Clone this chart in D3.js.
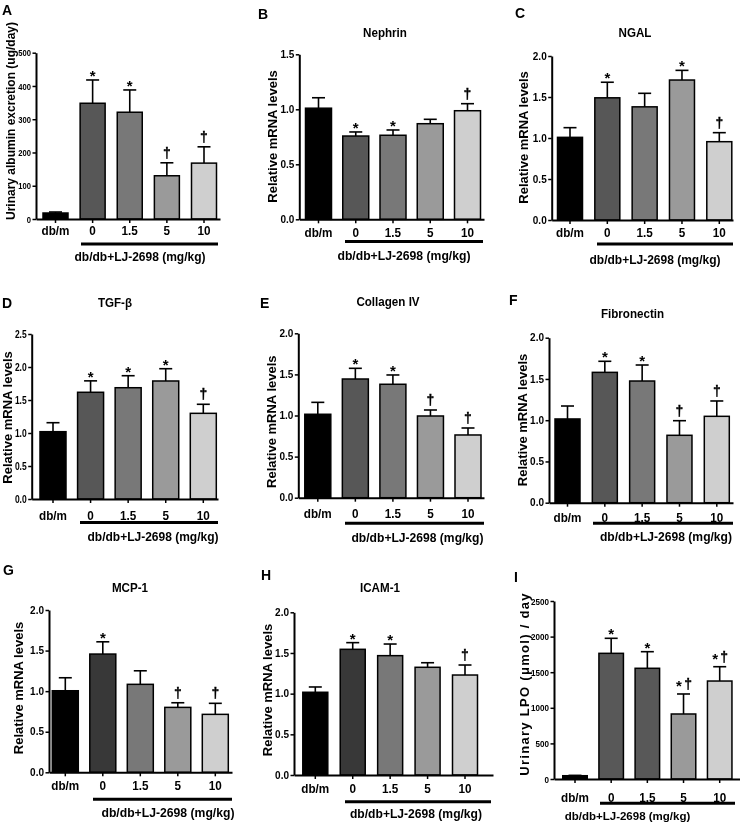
<!DOCTYPE html>
<html><head><meta charset="utf-8">
<script src="https://cdn.jsdelivr.net/npm/d3@7"></script>
<style>
body{margin:0;background:#fff;}
svg{will-change:transform;}
svg text{font-family:"Liberation Sans",Arial,sans-serif;fill:#000;-webkit-font-smoothing:antialiased;}
</style></head>
<body><svg id="c" width="740" height="829"></svg>
<script>
// ---------- DATA ----------
const categories = ["db/m","0","1.5","5","10"];
const groupLabel = "db/db+LJ-2698 (mg/kg)";

const albuminMean = [18, 348, 321, 130, 168];
const albuminSem  = [3, 70, 67, 39, 49];
const albuminMarks = ["", "*", "*", "†", "†"];
const albuminTicks = [0, 100, 200, 300, 400, 500];

const nephrinMean = [1.01, 0.757, 0.764, 0.869, 0.987];
const nephrinSem  = [0.095, 0.037, 0.048, 0.04, 0.064];
const nephrinMarks = ["", "*", "*", "", "†"];
const nephrinTicks = [0, 0.5, 1.0, 1.5];

const ngalMean = [1.008, 1.49, 1.38, 1.707, 0.955];
const ngalSem  = [0.118, 0.19, 0.165, 0.118, 0.11];
const ngalMarks = ["", "*", "", "*", "†"];

const tgfMean = [1.02, 1.617, 1.686, 1.788, 1.298];
const tgfSem  = [0.136, 0.173, 0.182, 0.186, 0.137];
const tgfMarks = ["", "*", "*", "*", "†"];
const tgfTicks = [0, 0.5, 1.0, 1.5, 2.0, 2.5];

const collagenMean = [1.015, 1.444, 1.38, 0.994, 0.763];
const collagenSem  = [0.145, 0.13, 0.113, 0.073, 0.085];
const collagenMarks = ["", "*", "*", "†", "†"];

const fibronectinMean = [1.015, 1.58, 1.475, 0.817, 1.047];
const fibronectinSem  = [0.157, 0.134, 0.194, 0.177, 0.186];
const fibronectinMarks = ["", "*", "*", "†", "†"];

const mcpMean = [1.005, 1.457, 1.084, 0.80, 0.714];
const mcpSem  = [0.16, 0.151, 0.167, 0.057, 0.136];
const mcpMarks = ["", "*", "", "†", "†"];

const icamMean = [1.017, 1.545, 1.467, 1.324, 1.229];
const icamSem  = [0.065, 0.082, 0.143, 0.056, 0.123];
const icamMarks = ["", "*", "*", "", "†"];

const lpoMean = [46, 1765, 1555, 913, 1376];
const lpoSem  = [5, 211, 233, 281, 201];
const lpoMarks = ["", "*", "*", "* †", "* †"];
const lpoTicks = [0, 500, 1000, 1500, 2000, 2500];

const mrnaTicks = [0, 0.5, 1.0, 1.5, 2.0];

// ---------- STYLE ----------
const paletteStd = ["#000000", "#575757", "#787878", "#9a9a9a", "#cfcfcf"];
const paletteDark0 = ["#000000", "#383838", "#787878", "#9a9a9a", "#cfcfcf"];
const paletteLpo = ["#000000", "#585858", "#585858", "#9a9a9a", "#cfcfcf"];

// ---------- LAYOUT (pixel frames per panel) ----------
const panels = [
 {letter:"A", lx:2,  ly:15, title:"", tx:0, ty:0, ytitle:"Urinary albumin excretion (ug/day)", ytx:11, yty:121, yfs:12, yls:0,
  mean:albuminMean, sem:albuminSem, marks:albuminMarks, ticks:albuminTicks, fmt:"d", tsx:0.8, tfs:9.5,
  ax:36, aend:220, y0:219, ytop:52.7, c0:55.5, c4:204, bw:25, catY:235, ulY:244, ul0:81, ul1:218, gx:140, gy:261, gfs:12, pal:paletteStd},
 {letter:"B", lx:258, ly:19, title:"Nephrin", tx:385, ty:36.5, ytitle:"Relative mRNA levels", ytx:272.5, yty:136.5, yfs:13, yls:0,
  mean:nephrinMean, sem:nephrinSem, marks:nephrinMarks, ticks:nephrinTicks, fmt:".1f", tsx:1, tfs:10,
  ax:299.3, aend:484, y0:219.3, ytop:54.3, c0:318.5, c4:467.5, bw:26, catY:237, ulY:241.5, ul0:345, ul1:483, gx:404, gy:260, gfs:12.2, pal:paletteStd},
 {letter:"C", lx:515, ly:18, title:"NGAL", tx:635, ty:36.5, ytitle:"Relative mRNA levels", ytx:523, yty:137.5, yfs:13, yls:0,
  mean:ngalMean, sem:ngalSem, marks:ngalMarks, ticks:mrnaTicks, fmt:".1f", tsx:1, tfs:10,
  ax:551.7, aend:733, y0:220, ytop:56, c0:570, c4:719.3, bw:25, catY:236.5, ulY:244, ul0:597, ul1:733, gx:655, gy:264, gfs:12, pal:paletteStd},
 {letter:"D", lx:2, ly:308, title:"TGF-β", tx:115, ty:307, ytitle:"Relative mRNA levels", ytx:7, yty:417.5, yfs:13, yls:0,
  mean:tgfMean, sem:tgfSem, marks:tgfMarks, ticks:tgfTicks, fmt:".1f", tsx:0.85, tfs:10,
  ax:31.7, aend:218, y0:499, ytop:334, c0:53, c4:203.3, bw:26, catY:520, ulY:522.5, ul0:80, ul1:218, gx:153, gy:541, gfs:12, pal:paletteStd},
 {letter:"E", lx:260, ly:308, title:"Collagen IV", tx:388, ty:306, ytitle:"Relative mRNA levels", ytx:271, yty:421.7, yfs:13, yls:0,
  mean:collagenMean, sem:collagenSem, marks:collagenMarks, ticks:mrnaTicks, fmt:".1f", tsx:1, tfs:10,
  ax:298.3, aend:484, y0:497.7, ytop:333.3, c0:317.8, c4:468, bw:26, catY:518, ulY:523.3, ul0:345, ul1:484, gx:417.5, gy:542, gfs:12.1, pal:paletteStd},
 {letter:"F", lx:509, ly:305, title:"Fibronectin", tx:632.5, ty:318, ytitle:"Relative mRNA levels", ytx:522, yty:420, yfs:13, yls:0,
  mean:fibronectinMean, sem:fibronectinSem, marks:fibronectinMarks, ticks:mrnaTicks, fmt:".1f", tsx:1, tfs:10,
  ax:549, aend:733, y0:502.7, ytop:337.7, c0:567.5, c4:716.8, bw:25, catY:521.5, ulY:523.3, ul0:593, ul1:733, gx:666, gy:541, gfs:12.1, pal:paletteStd},
 {letter:"G", lx:3, ly:575, title:"MCP-1", tx:130, ty:591.7, ytitle:"Relative mRNA levels", ytx:18.7, yty:688, yfs:13, yls:0,
  mean:mcpMean, sem:mcpSem, marks:mcpMarks, ticks:mrnaTicks, fmt:".1f", tsx:1, tfs:10,
  ax:49, aend:232, y0:772.3, ytop:610, c0:65.3, c4:215.3, bw:26, catY:790, ulY:799.3, ul0:93, ul1:232, gx:168, gy:817, gfs:12.2, pal:paletteDark0},
 {letter:"H", lx:261, ly:580, title:"ICAM-1", tx:380, ty:592, ytitle:"Relative mRNA levels", ytx:267, yty:690, yfs:13, yls:0,
  mean:icamMean, sem:icamSem, marks:icamMarks, ticks:mrnaTicks, fmt:".1f", tsx:1, tfs:10,
  ax:294, aend:493, y0:775, ytop:612.3, c0:315.3, c4:465, bw:25, catY:793, ulY:801.7, ul0:345, ul1:491, gx:416, gy:818, gfs:12.1, pal:paletteDark0},
 {letter:"I", lx:514, ly:582, title:"", tx:0, ty:0, ytitle:"Urinary LPO (μmol) / day", ytx:524, yty:684, yfs:13, yls:1.3,
  mean:lpoMean, sem:lpoSem, marks:lpoMarks, ticks:lpoTicks, fmt:"d", tsx:0.85, tfs:9.5,
  ax:554, aend:740, y0:779, ytop:601, c0:575, c4:719.7, bw:24.5, catY:801.5, ulY:803.3, ul0:600, ul1:735, gx:627.5, gy:820, gfs:11.5, pal:paletteLpo}
];

const svg = d3.select("#c");

// horizontally compressed text helper (via textLength)
function squeeze(sel, sx) {
  if (sx === 1) return sel;
  sel.each(function() {
    const w = this.getComputedTextLength();
    d3.select(this).attr("textLength", w * sx).attr("lengthAdjust", "spacingAndGlyphs");
  });
  return sel;
}
function sText(g, x, y, txt, fs, sx, anchor) {
  const t = g.append("text")
    .attr("x", x).attr("y", y)
    .attr("text-anchor", anchor || "middle")
    .attr("font-size", fs).attr("font-weight", "bold").text(txt);
  return squeeze(t, sx);
}

panels.forEach(p => {
  const g = svg.append("g");
  const tickMax = p.ticks[p.ticks.length - 1];
  const y = d3.scaleLinear().domain([0, tickMax]).range([p.y0, p.ytop]);
  const step = (p.c4 - p.c0) / 4;
  const pin = 1 - p.bw / step;
  const x = d3.scaleBand().domain(categories)
      .range([p.c0 - step / 2, p.c4 + step / 2])
      .paddingInner(pin).paddingOuter(pin / 2);
  const cx = c => x(c) + x.bandwidth() / 2;

  const data = categories.map((c, i) => ({c, m: p.mean[i], s: p.sem[i], mk: p.marks[i], col: p.pal[i]}));

  // error bars (upward only)
  const eb = g.selectAll(".eb").data(data).enter().append("g");
  eb.append("line")
    .attr("x1", d => cx(d.c)).attr("x2", d => cx(d.c))
    .attr("y1", d => y(d.m)).attr("y2", d => y(d.m + d.s))
    .attr("stroke", "#000").attr("stroke-width", 1.6);
  eb.append("line")
    .attr("x1", d => cx(d.c) - 6.5).attr("x2", d => cx(d.c) + 6.5)
    .attr("y1", d => y(d.m + d.s)).attr("y2", d => y(d.m + d.s))
    .attr("stroke", "#000").attr("stroke-width", 1.6);

  // bars
  g.selectAll(".bar").data(data).enter().append("rect")
    .attr("x", d => x(d.c)).attr("width", x.bandwidth())
    .attr("y", d => y(d.m)).attr("height", d => y(0) - y(d.m))
    .attr("fill", d => d.col).attr("stroke", "#000").attr("stroke-width", 1.5);

  // significance marks
  data.filter(d => d.mk).forEach(d => {
    const parts = d.mk.split(" ");
    const top = y(d.m + d.s);
    const pair = parts.length === 2;
    const offs = pair ? [-4.5, 4.5] : [0];
    parts.forEach((s, k) => {
      const isDag = s === "†";
      g.append("text")
        .attr("x", cx(d.c) + offs[k])
        .attr("y", isDag ? top - 5 : (pair ? top - 3 : top + 1))
        .attr("text-anchor", "middle")
        .attr("font-family", isDag ? "'DejaVu Sans',sans-serif" : "'Liberation Sans',Arial,sans-serif")
        .attr("font-size", isDag ? 14 : 15).attr("font-weight", "bold")
        .attr("fill", "#000").attr("stroke", isDag ? "#000" : "none").attr("stroke-width", 0.3)
        .text(s);
    });
  });

  // y axis
  const yAxis = d3.axisLeft(y).tickValues(p.ticks).tickSize(3.5).tickPadding(1.5).tickSizeOuter(0)
    .tickFormat(d3.format(p.fmt));
  const ya = g.append("g").attr("transform", `translate(${p.ax},0)`).call(yAxis);
  ya.select(".domain").attr("stroke-width", 2);
  ya.selectAll(".tick line").attr("stroke-width", 1.5);
  const tt = ya.selectAll(".tick text").attr("font-size", p.tfs).attr("font-weight", "bold")
    .attr("font-family", "'Liberation Sans',Arial,sans-serif");
  squeeze(tt, p.tsx);

  // x axis with category ticks
  const xa = g.append("g").attr("transform", `translate(0,${p.y0})`)
    .call(d3.axisBottom(d3.scaleLinear().domain([0, 1]).range([p.ax, p.aend])).ticks(0).tickSizeOuter(0));
  xa.select(".domain").attr("stroke-width", 2);
  g.selectAll(".xt").data(categories).enter().append("line")
    .attr("x1", d => cx(d)).attr("x2", d => cx(d))
    .attr("y1", p.y0).attr("y2", p.y0 + 4)
    .attr("stroke", "#000").attr("stroke-width", 1.5);

  // category labels
  categories.forEach(c => sText(g, cx(c), p.catY, c, 13, 0.9));

  // group underline and label
  g.append("line").attr("x1", p.ul0).attr("x2", p.ul1).attr("y1", p.ulY).attr("y2", p.ulY)
    .attr("stroke", "#000").attr("stroke-width", 3);
  sText(g, p.gx, p.gy, groupLabel, p.gfs, 1);

  // y title
  g.append("text").attr("transform", `translate(${p.ytx + 0.36 * p.yfs},${p.yty}) rotate(-90)`)
    .attr("text-anchor", "middle").attr("font-size", p.yfs).attr("font-weight", "bold")
    .attr("letter-spacing", p.yls)
    .text(p.ytitle);

  // panel title
  if (p.title) sText(g, p.tx, p.ty, p.title, 13.5, 0.86);

  // panel letter
  g.append("text").attr("x", p.lx).attr("y", p.ly).attr("font-size", 14).attr("font-weight", "bold").text(p.letter);
});
</script></body></html>
